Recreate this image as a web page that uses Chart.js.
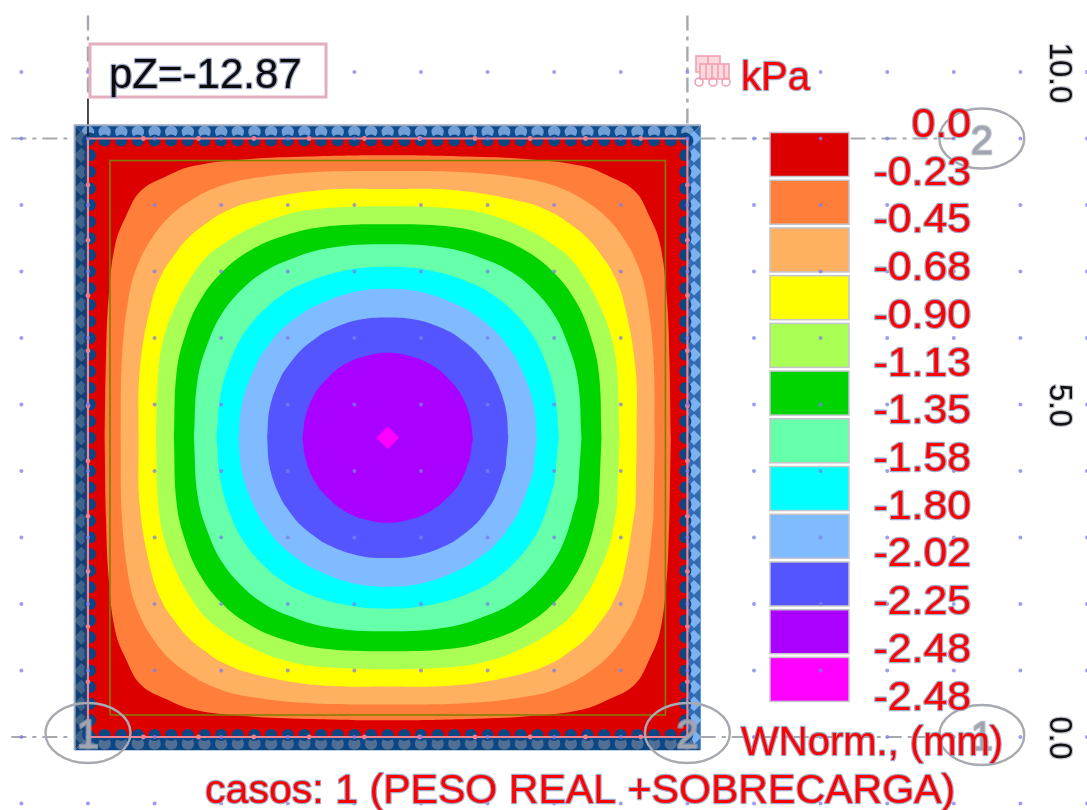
<!DOCTYPE html>
<html>
<head>
<meta charset="utf-8">
<title>WNorm</title>
<style>
  html, body { margin: 0; background: #fff; }
  canvas { display: block; filter: blur(0.55px); }
</style>
<script src="https://cdn.jsdelivr.net/npm/chart.js@4/dist/chart.umd.min.js"></script>
</head>
<body>
<canvas id="myChart" width="1087" height="810"></canvas>
<script>
// values, metres
const gridX = [-1, 0, 1, 2, 3, 4, 5, 6, 7, 8, 9, 10, 11, 12, 13, 14, 15]
const gridY = [-1, 0, 1, 2, 3, 4, 5, 6, 7, 8, 9, 10]
const axisTicks = [10, 5, 0]
const tickLabels = ['10.0', '5.0', '0.0']

const plateSide = 9
const plateCentre = 4.5
const innerLine = [0.33, 8.67]

const legendLabels = ['0.0', '-0.23', '-0.45', '-0.68', '-0.90', '-1.13', '-1.35', '-1.58', '-1.80', '-2.02', '-2.25', '-2.48', '-2.48']
const bandColors = ['#dc0000', '#ff7f3a', '#ffb060', '#ffff00', '#aaff55', '#00d400', '#66ffaa', '#00ffff', '#80bbff', '#5555ff', '#aa00ff', '#ff00ff']

// the plate is symmetric, so each contour is read once: from the axis to the diagonal,
// as offsets from the plate centre
const contourOrange = [[4.25, 0], [4.23, 1.2], [4.19, 2.1], [4.09, 2.91], [3.93, 3.33], [3.71, 3.71]]
const contourPeach = [[4.01, 0], [3.99, 1.2], [3.88, 2.16], [3.74, 2.63], [3.54, 3.0], [3.3, 3.3]]
const contourYellow = [[3.74, 0], [3.72, 1.05], [3.54, 2.06], [3.38, 2.48], [3.24, 2.7], [3.0, 3.0]]
const contourLime = [[3.48, 0], [3.44, 1.05], [3.34, 1.58], [3.15, 2.06], [2.96, 2.4], [2.72, 2.72]]
const contourGreen = [[3.21, 0], [3.17, 0.98], [3.03, 1.58], [2.82, 2.06], [2.49, 2.49]]
const contourMint = [[2.91, 0], [2.85, 0.9], [2.67, 1.5], [2.48, 1.88], [2.21, 2.21]]
const contourCyan = [[2.57, 0], [2.5, 0.7], [2.3, 1.31], [2.1, 1.65], [1.89, 1.89]]
const contourSky = [[2.24, 0], [2.18, 0.55], [1.97, 1.11], [1.8, 1.38], [1.61, 1.61]]
const contourBlue = [[1.81, 0], [1.77, 0.45], [1.61, 0.9], [1.46, 1.13], [1.31, 1.31]]
const contourPurple = [[1.28, 0], [1.23, 0.33], [1.1, 0.65], [0.9, 0.9]]
const contourMagenta = [[0.17, 0], [0.085, 0.085]]

const chainStations = [0, 0.25, 0.5, 0.75, 1, 1.25, 1.5, 1.75, 2, 2.25, 2.5, 2.75, 3, 3.25, 3.5, 3.75, 4, 4.25, 4.5, 4.75, 5, 5.25, 5.5, 5.75, 6, 6.25, 6.5, 6.75, 7, 7.25, 7.5, 7.75, 8, 8.25, 8.5, 8.75, 9]
const nodeStations = [0.83, 1.66, 2.49, 3.32, 4.15, 4.98, 5.81, 6.64, 7.47, 8.3]

const axisBubbles = [
  { label: '1', x: 0, y: 0.06 },
  { label: '2', x: 9, y: 0.06 },
  { label: '1', x: 13.42, y: 0.03 },
  { label: '2', x: 13.42, y: 9 }
]

// reflect one octant into a closed outline
function outline(octant) {
  const quarter = octant.concat(octant.slice(0, -1).reverse().map(p => [p[1], p[0]]))
  const half = quarter.concat(quarter.slice(0, -1).reverse().map(p => [-p[0], p[1]]))
  const loop = half.concat(half.slice(1).reverse().map(p => [p[0], -p[1]]))
  return loop.map(p => ({ x: plateCentre + p[0], y: plateCentre + p[1] }))
}

function pts(list) {
  return list.map(p => ({ x: p[0], y: p[1] }))
}

function area(list, color) {
  return { data: pts(list), showLine: true, fill: 'shape', backgroundColor: color, borderColor: color, borderWidth: 0, pointRadius: 0 }
}

function contour(octant, color, tension) {
  return { data: outline(octant), showLine: true, fill: 'shape', tension: tension, backgroundColor: color, borderColor: color, borderWidth: 0, pointRadius: 0 }
}

function path(list, color, width, dash) {
  return { data: pts(list), showLine: true, fill: false, borderColor: color, borderWidth: width, borderDash: dash || [], pointRadius: 0 }
}

function beads(list, color, radius, style) {
  return { data: pts(list), showLine: false, pointRadius: radius, pointStyle: style || 'circle', pointBackgroundColor: color, pointBorderColor: color, pointBorderWidth: 0 }
}

const S = plateSide
const B = 0.2
const dashDot = [15, 6, 4, 6]

const layers = [
  area([[-B, S + B], [S + B, S + B], [S, S], [0, S], [-B, S + B]], '#0f4c8e'),
  area([[-B, -B], [-B, S + B], [0, S], [0, 0], [-B, -B]], '#123f74'),
  area([[S + B, S + B], [S + B, -B], [S, 0], [S, S], [S + B, S + B]], '#2f6cb4'),
  area([[-B, -B], [S + B, -B], [S, 0], [0, 0], [-B, -B]], '#0b4685'),
  area([[0, 0], [S, 0], [S, S], [0, S], [0, 0]], bandColors[0]),
  contour(contourOrange, bandColors[1], 0.4),
  contour(contourPeach, bandColors[2], 0.4),
  contour(contourYellow, bandColors[3], 0.4),
  contour(contourLime, bandColors[4], 0.4),
  contour(contourGreen, bandColors[5], 0.4),
  contour(contourMint, bandColors[6], 0.4),
  contour(contourCyan, bandColors[7], 0.4),
  contour(contourSky, bandColors[8], 0.4),
  contour(contourBlue, bandColors[9], 0.4),
  contour(contourPurple, bandColors[10], 0.4),
  contour(contourMagenta, bandColors[11], 0),
  path([[innerLine[0], innerLine[0]], [innerLine[1], innerLine[0]], [innerLine[1], innerLine[1]], [innerLine[0], innerLine[1]], [innerLine[0], innerLine[0]]], '#808000', 1.6),
  // outer ring of the edge beam
  beads(chainStations.map(s => [s, S + 0.1]), '#6f9fd6', 6.2),
  beads(chainStations.map(s => [-0.1, s]), '#3f6389', 7.4, 'rectRot'),
  beads(chainStations.map(s => [S + 0.1, s]), '#7ab2f2', 7.4, 'rectRot'),
  beads(chainStations.map(s => [s, -0.1]), '#4f6f95', 6.2),
  // inner scallops
  beads(chainStations.map(s => [s, S - 0.03]), '#0b4685', 6),
  beads(chainStations.map(s => [0.03, s]), '#0b4685', 6),
  beads(chainStations.map(s => [S - 0.03, s]), '#0b4685', 6),
  beads(chainStations.map(s => [s, 0.03]), '#0b4685', 6),
  path([[0, 0], [S, 0], [S, S], [0, S], [0, 0]], '#ee8291', 2.2),
  beads(nodeStations.map(s => [s, S]), '#f07f90', 2.4),
  beads(nodeStations.map(s => [0, s]), '#f07f90', 2.4),
  beads(nodeStations.map(s => [S, s]), '#f07f90', 2.4),
  beads(nodeStations.map(s => [s, 0]), '#f07f90', 2.4),
  // building axes
  path([[-1.15, S], [-0.22, S]], '#a6a8b0', 2.2, dashDot),
  path([[S + 0.2, S], [10.25, S]], '#a6a8b0', 2.2, dashDot),
  path([[11.45, S], [13, S]], '#a6a8b0', 2.2, dashDot),
  path([[-1.15, 0], [-0.22, 0]], '#a6a8b0', 2.2, dashDot),
  path([[S + 0.2, 0], [13, 0]], '#a6a8b0', 2.2, dashDot),
  path([[0, 10.85], [0, 9.6]], '#a6a8b0', 2.4, dashDot),
  path([[S, 10.85], [S, S + 0.1]], '#a6a8b0', 2.4, dashDot),
  path([[0, 9.6], [0, S]], '#101010', 1.5),
  beads(gridY.flatMap(y => gridX.map(x => [x, y])), 'rgba(125,125,235,0.75)', 2)
]
layers.forEach((d, i) => { d.order = layers.length - i })

function label(ctx, text, x, y, o) {
  ctx.save()
  ctx.font = (o.bold ? 'bold ' : '') + o.size + 'px "Liberation Sans", Arial, sans-serif'
  ctx.textAlign = o.align || 'left'
  ctx.textBaseline = 'alphabetic'
  ctx.translate(x, y)
  if (o.rotate) ctx.rotate(o.rotate)
  ctx.scale(o.stretch || 1, 1)
  ctx.lineJoin = 'round'
  ctx.strokeStyle = o.halo || 'rgba(145,155,190,0.85)'
  ctx.lineWidth = 2.4
  ctx.strokeText(text, 0, 0)
  ctx.fillStyle = o.color
  ctx.fillText(text, 0, 0)
  ctx.restore()
}

const annotations = {
  id: 'annotations',
  beforeDatasetsDraw(chart) {
    // colour key, sits under the grid dots
    const ctx = chart.ctx
    bandColors.forEach((c, i) => {
      const top = 132.5 + i * 47.72
      ctx.fillStyle = c
      ctx.fillRect(770, top, 79, 44)
      ctx.strokeStyle = '#c4c4cc'
      ctx.lineWidth = 1.5
      ctx.strokeRect(770, top, 79, 44)
    })
  },
  afterDatasetsDraw(chart) {
    const ctx = chart.ctx
    const xs = chart.scales.x
    const ys = chart.scales.y

    // beam outline
    ctx.strokeStyle = '#9aa9c4'
    ctx.lineWidth = 2
    ctx.beginPath()
    ctx.moveTo(xs.getPixelForValue(-B), ys.getPixelForValue(-B))
    ctx.lineTo(xs.getPixelForValue(-B), ys.getPixelForValue(S + B))
    ctx.lineTo(xs.getPixelForValue(S + B), ys.getPixelForValue(S + B))
    ctx.stroke()

    // axis bubbles
    axisBubbles.forEach(b => {
      const px = xs.getPixelForValue(b.x)
      const py = ys.getPixelForValue(b.y)
      ctx.strokeStyle = '#a8aab2'
      ctx.lineWidth = 2.4
      ctx.beginPath()
      ctx.ellipse(px, py, 42.5, 30, 0, 0, Math.PI * 2)
      ctx.stroke()
      label(ctx, b.label, px, py + 15, { size: 40, align: 'center', color: '#a0a4b0', halo: 'rgba(160,164,176,0.7)' })
    })

    // value box
    ctx.fillStyle = '#fff'
    ctx.fillRect(90, 44, 236, 53)
    ctx.strokeStyle = '#e3aebd'
    ctx.lineWidth = 3
    ctx.strokeRect(90, 44, 236, 53)
    label(ctx, 'pZ=-12.87', 109, 88, { size: 42, color: '#0c0c0c' })

    // load icon
    ctx.strokeStyle = '#f0a0b0'
    ctx.lineWidth = 1.6
    ctx.fillStyle = '#fbd8de'
    ctx.fillRect(696, 56, 24, 16)
    ctx.strokeRect(696, 56, 24, 16)
    ctx.fillRect(700, 64, 29, 15)
    ctx.strokeRect(700, 64, 29, 15)
    ctx.beginPath()
    ctx.moveTo(708, 56); ctx.lineTo(708, 64)
    ctx.moveTo(706, 64); ctx.lineTo(706, 79)
    ctx.moveTo(712, 64); ctx.lineTo(712, 79)
    ctx.moveTo(718, 64); ctx.lineTo(718, 79)
    ctx.moveTo(724, 64); ctx.lineTo(724, 79)
    ctx.stroke()
    ;[699, 713, 726].forEach(x => {
      ctx.beginPath()
      ctx.arc(x, 82, 4, 0, Math.PI * 2)
      ctx.stroke()
    })
    label(ctx, 'kPa', 741, 90, { size: 40, color: '#ff0000' })

    // key labels
    legendLabels.forEach((t, i) => {
      label(ctx, t, 971, 137 + i * 47.72, { size: 40, align: 'right', stretch: 1.07, color: '#ff0000' })
    })
    label(ctx, 'WNorm., (mm)', 741, 755, { size: 40, color: '#ff0000' })
    label(ctx, 'casos: 1 (PESO REAL +SOBRECARGA)', 205, 803, { size: 41.1, color: '#ff0000' })

    // right axis ticks, read downwards
    axisTicks.forEach((v, i) => {
      label(ctx, tickLabels[i], 1050, ys.getPixelForValue(v) + 1, { size: 31, align: 'center', rotate: Math.PI / 2, color: '#111', halo: 'rgba(150,155,175,0.6)' })
    })
  }
}

const ctx = document.getElementById('myChart')
// eslint-disable-next-line no-unused-vars
const myChart = new Chart(ctx, {
  type: 'scatter',
  data: { datasets: layers },
  plugins: [annotations],
  options: {
    responsive: false,
    animation: false,
    layout: { padding: 0, autoPadding: false },
    scales: {
      x: { type: 'linear', display: false, min: -1.321, max: 15 },
      y: { type: 'linear', display: false, min: -1.098, max: 11.083 }
    },
    plugins: {
      legend: { display: false },
      tooltip: { enabled: false },
      filler: { propagate: false }
    }
  }
})
</script>
</body>
</html>
